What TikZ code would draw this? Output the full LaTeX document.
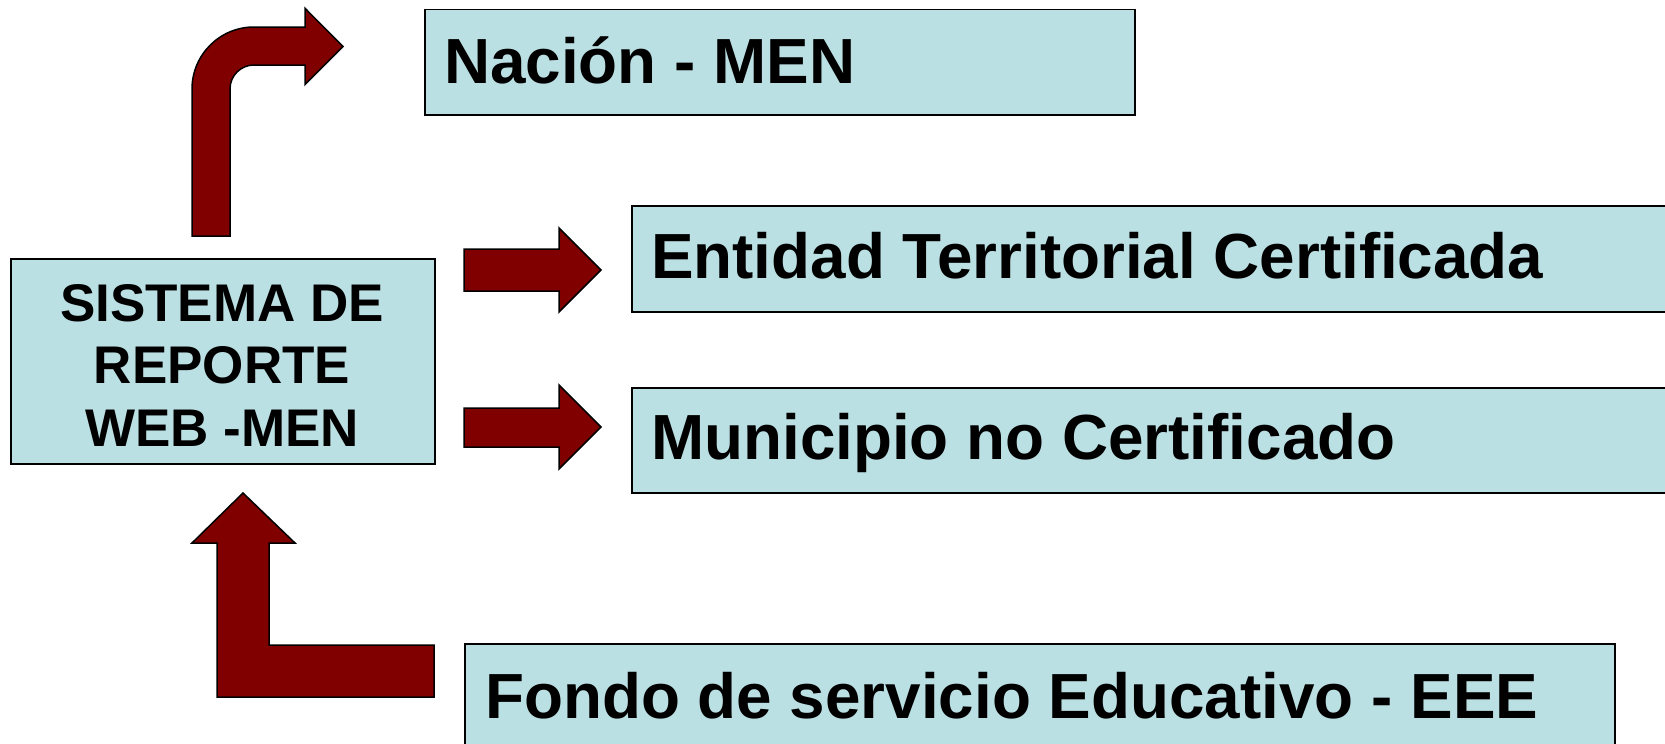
\documentclass[tikz,border=0pt]{standalone}
\usepackage{fontspec}
\setmainfont{Liberation Sans}
\definecolor{boxfill}{RGB}{187,224,227}
\definecolor{arrowred}{RGB}{128,0,0}
\begin{document}
\begin{tikzpicture}[x=1pt,y=-1pt,
  box/.style={draw=black,line width=1.8pt,fill=boxfill,inner sep=0pt,anchor=north west},
  blockarrow/.style={draw=black,line width=1.5pt,fill=arrowred,line join=miter},
  lbl/.style={font=\fontsize{63.8}{70}\selectfont\bfseries,anchor=base west,inner sep=0pt},
  slbl/.style={font=\fontsize{53}{60}\selectfont\bfseries,anchor=base,inner sep=0pt}]
\useasboundingbox (0,0) rectangle (1665,744);
\path[fill=white] (0,0) rectangle (1665,744);
\begin{scope}
\clip (0,0) rectangle (1665,744);
% boxes
\node[box, minimum width=424pt, minimum height=205pt] (sistema) at (10,258) {};
\node[box, minimum width=710pt, minimum height=105.5pt] (nacion) at (424,8.5) {};
\node[box, minimum width=1049pt, minimum height=106pt] (entidad) at (631,205) {};
\node[box, minimum width=1049pt, minimum height=105pt] (municipio) at (631,387) {};
\node[box, minimum width=1150pt, minimum height=106pt] (fondo) at (464,643) {};
\end{scope}
% texts
\node[slbl] (s1) at (222,321) {SISTEMA DE};
\node[slbl] (s2) at (222,383) {REPORTE};
\node[slbl] (s3) at (222,446) {WEB -MEN};
\node[lbl] (nacionT) at (444,83) {Nación - MEN};
\node[lbl] (entidadT) at (651,278) {Entidad Territorial Certificada};
\node[lbl] (municipioT) at (651,459) {Municipio no Certificado};
\node[lbl] (fondoT) at (485,718) {Fondo de servicio Educativo - EEE};
% block arrows
\draw[blockarrow] (192,236) -- (192,89) .. controls (192,54.8) and (219.8,27) .. (254,27)
  -- (305,27) -- (305,8.3) -- (343,46.5) -- (305,84.5) -- (305,65) -- (254,65)
  .. controls (240.7,65) and (230,75.7) .. (230,89) -- (230,236) -- cycle;
\draw[blockarrow] (464,249) -- (559,249) -- (559,228) -- (601,270) -- (559,312) -- (559,291) -- (464,291) -- cycle;
\draw[blockarrow] (464,408) -- (559,408) -- (559,385) -- (601,427) -- (559,469) -- (559,447) -- (464,447) -- cycle;
\draw[blockarrow] (243,493) -- (295,543) -- (269,543) -- (269,645) -- (434,645) -- (434,697)
  -- (217,697) -- (217,543) -- (192,543) -- cycle;
\end{tikzpicture}
\end{document}
